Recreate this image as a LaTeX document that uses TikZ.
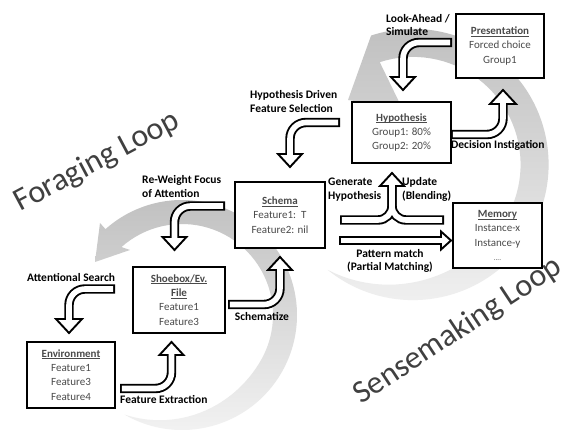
\documentclass[tikz,border=0pt]{standalone}
\usepackage{fontspec}
\setmainfont{Carlito}
\usetikzlibrary{calc}
\definecolor{bodytext}{HTML}{4A4A4A}
\newcommand{\boxtitle}[1]{\setbox0\hbox{\textbf{#1}}\rlap{\rule[-1.8pt]{\wd0}{0.7pt}}\box0}
\newcommand{\bhead}[3]{\path[headtri] ($(#1)!#3!90:(#2)$) -- (#2) -- ($(#1)!#3!-90:(#2)$) -- cycle;}
\begin{document}
\begin{tikzpicture}[x=1pt,y=1pt,
  box/.style={draw=black, line width=2.2pt, fill=white, align=center, inner sep=0pt,
    font=\fontsize{11}{14.3}\selectfont, text=bodytext},
  lbl/.style={font=\fontsize{11.5}{13.3}\selectfont\bfseries, inner sep=0pt},
  loopfont/.style={font=\fontsize{32}{36}\selectfont, text=black!75, inner sep=0pt},
  bandblack/.style={draw=black, line width=9.4pt, rounded corners=16pt},
  bandwhite/.style={draw=white, line width=5.6pt, rounded corners=16pt, shorten <=1.9pt, shorten >=-1.9pt},
  headtri/.style={fill=white, draw=black, line width=1.9pt, line join=miter}
]
\useasboundingbox (0,0) rectangle (568,430);
\fill[white] (0,0) rectangle (568,430);

% ---- gray loop arrows ----
\coordinate (fc) at (182,115);
\coordinate (sc) at (413,265.5);
\shade[top color=gray!50, bottom color=gray!8]
  ($(fc)+(240:115)$) arc[start angle=240, end angle=491.7, radius=115]
  -- (100,207) -- (95,168) -- (130,180) -- ($(fc)+(491.7:91)$)
  -- plot[domain=0:251.7, samples=70] ({182+(115-24*sin(min(251.7-\x,90)))*cos(491.7-\x)}, {115+(115-24*sin(min(251.7-\x,90)))*sin(491.7-\x)})
  -- cycle;
\shade[top color=gray!50, bottom color=gray!10]
  ($(sc)+(231:135.6)$) arc[start angle=231, end angle=468, radius=135.6]
  -- (348,330) -- (402,322) -- ($(sc)+(468:107.6)$)
  -- plot[domain=0:237, samples=70] ({413+(135.6-28*sin(min(237-\x,90)))*cos(468-\x)}, {265.5+(135.6-28*sin(min(237-\x,90)))*sin(468-\x)})
  -- cycle;

\node[loopfont, rotate=28, anchor=base] (fl) at (101,261) {Foraging Loop};
\node[loopfont, rotate=33.5, anchor=base] (sl) at (462.5,92) {Sensemaking Loop};

% ---- boxes ----
\node[box, minimum width=88pt, minimum height=64pt] (pres) at (500,384) {\boxtitle{Presentation}\\Forced choice\\Group1};
\node[box, minimum width=99pt, minimum height=61pt] (hyp) at (401.5,297.5) {\boxtitle{Hypothesis}\\Group1: 80\%\\Group2: 20\%};
\node[box, minimum width=90pt, minimum height=66pt] (schema) at (280,215) {\boxtitle{Schema}\\Feature1:\ \ T\\Feature2: nil};
\node[box, minimum width=89pt, minimum height=65pt] (mem) at (497.5,194.5) {\boxtitle{Memory}\\Instance-x\\Instance-y\\{\fontsize{7}{8}\selectfont ....}};
\node[box, minimum width=92pt, minimum height=66pt] (shoe) at (179,130) {\boxtitle{Shoebox/Ev.}\\\boxtitle{File}\\Feature1\\Feature3};
\node[box, minimum width=88pt, minimum height=66pt] (env) at (71,55) {\boxtitle{Environment}\\Feature1\\Feature3\\Feature4};

% ---- hollow arrows ----
% Look-Ahead / Simulate
\coordinate (la-s) at (452,387.5); \coordinate (la-c) at (403,387.5);
\coordinate (la-b) at (403,353); \coordinate (la-t) at (403,340);
\draw[bandblack] (la-s) -- (la-c) -- (la-b);
\bhead{la-b}{la-t}{12pt}
\draw[bandwhite] (la-s) -- (la-c) -- (la-b);
% Hypothesis driven feature selection
\coordinate (hd-s) at (340,307.5); \coordinate (hd-c) at (290,307.5);
\coordinate (hd-b) at (290,276); \coordinate (hd-t) at (290,263);
\draw[bandblack] (hd-s) -- (hd-c) -- (hd-b);
\bhead{hd-b}{hd-t}{12pt}
\draw[bandwhite] (hd-s) -- (hd-c) -- (hd-b);
% Re-weight focus
\coordinate (rw-s) at (225,224); \coordinate (rw-c) at (174.5,224);
\coordinate (rw-b) at (174.5,193); \coordinate (rw-t) at (174.5,180);
\draw[bandblack] (rw-s) -- (rw-c) -- (rw-b);
\bhead{rw-b}{rw-t}{12pt}
\draw[bandwhite] (rw-s) -- (rw-c) -- (rw-b);
% Attentional search
\coordinate (as-s) at (115,141); \coordinate (as-c) at (69,141);
\coordinate (as-b) at (69,111); \coordinate (as-t) at (69,97);
\draw[bandblack] (as-s) -- (as-c) -- (as-b);
\bhead{as-b}{as-t}{13pt}
\draw[bandwhite] (as-s) -- (as-c) -- (as-b);
% Feature extraction
\coordinate (fe-s) at (120,41.5); \coordinate (fe-c) at (171.5,41.5);
\coordinate (fe-b) at (171.5,75); \coordinate (fe-t) at (171.5,88);
\draw[bandblack] (fe-s) -- (fe-c) -- (fe-b);
\bhead{fe-b}{fe-t}{12pt}
\draw[bandwhite] (fe-s) -- (fe-c) -- (fe-b);
% Schematize
\coordinate (sz-s) at (228,125.5); \coordinate (sz-c) at (280,125.5);
\coordinate (sz-b) at (280,160); \coordinate (sz-t) at (280,173);
\draw[bandblack] (sz-s) -- (sz-c) -- (sz-b);
\bhead{sz-b}{sz-t}{12pt}
\draw[bandwhite] (sz-s) -- (sz-c) -- (sz-b);
% Decision instigation
\coordinate (di-s) at (451,295.5); \coordinate (di-c) at (503,295.5);
\coordinate (di-b) at (503,326); \coordinate (di-t) at (503,340);
\draw[bandblack] (di-s) -- (di-c) -- (di-b);
\bhead{di-b}{di-t}{13pt}
\draw[bandwhite] (di-s) -- (di-c) -- (di-b);
% Generate hypothesis / Update (split)
\coordinate (gl-s) at (340,210); \coordinate (gr-s) at (444,210);
\coordinate (ge-c) at (392,210);
\coordinate (ge-b) at (392,244); \coordinate (ge-t) at (392,257);
\draw[bandblack, rounded corners=14pt] (gl-s) -- (ge-c) -- (ge-b);
\draw[bandblack, rounded corners=14pt] (gr-s) -- (ge-c) -- (ge-b);
\bhead{ge-b}{ge-t}{12pt}
\draw[bandwhite, rounded corners=14pt] (gl-s) -- (ge-c) -- (ge-b);
\draw[bandwhite, rounded corners=14pt] (gr-s) -- (ge-c) -- (ge-b);
% Pattern match
\coordinate (pm-s) at (339,189.5); \coordinate (pm-b) at (441,189.5); \coordinate (pm-t) at (451,189.5);
\draw[bandblack] (pm-s) -- (pm-b);
\bhead{pm-b}{pm-t}{9pt}
\draw[bandwhite] (pm-s) -- (pm-b);

% ---- labels ----
\node[lbl, anchor=west, align=left] (l-la) at (386,405) {Look-Ahead /\\Simulate};
\node[lbl, anchor=west, align=left] (l-hd) at (250,328.5) {Hypothesis Driven\\Feature Selection};
\node[lbl, anchor=west, align=left] (l-rw) at (142,243.5) {Re-Weight Focus\\of Attention};
\node[lbl, anchor=west] (l-as) at (27,152) {Attentional Search};
\node[lbl, anchor=west] (l-fe) at (120,30) {Feature Extraction};
\node[lbl] (l-sz) at (262,113) {Schematize};
\node[lbl, anchor=west] (l-di) at (451,285) {Decision Instigation};
\node[lbl, anchor=west, align=left] (l-gh) at (328,240.5) {Generate\\Hypothesis};
\node[lbl, anchor=west, align=left] (l-up) at (402,240.5) {Update\\(Blending)};
\node[lbl, align=center] (l-pm) at (390,169) {Pattern match\\(Partial Matching)};
\end{tikzpicture}
\end{document}
